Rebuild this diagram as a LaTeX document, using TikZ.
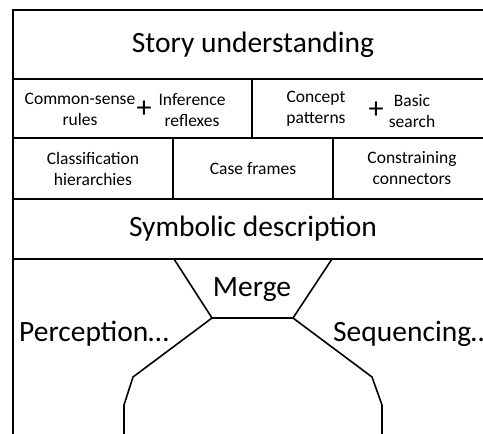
\documentclass[tikz,border=0pt]{standalone}
\usepackage{fontspec}
\setmainfont{Carlito}
\usetikzlibrary{positioning}
\tikzset{
  cell/.style={
    rectangle,
    draw=black,
    line width=1.6pt,
    inner sep=0pt,
    outer sep=0pt,
    anchor=north west,
    align=center,
    font=\fontsize{17.5}{21}\selectfont
  },
  bigcell/.style={
    cell,
    minimum width=480pt,
    font=\fontsize{29.5}{35}\selectfont
  },
  smalltext/.style={
    align=center,
    inner sep=0pt,
    font=\fontsize{17.5}{21}\selectfont
  },
  bigtext/.style={
    inner sep=0pt,
    font=\fontsize{29.5}{35}\selectfont
  },
  plussign/.style={
    inner sep=0pt,
    font=\fontsize{30}{30}\selectfont
  },
  outline/.style={
    line width=1.6pt,
    draw=black
  }
}
\begin{document}
\begin{tikzpicture}[x=1pt, y=-1pt]
  \useasboundingbox (0,0) rectangle (483,434);
  \clip (0,0) rectangle (483,434);

  % layers, top to bottom
  \node[bigcell, minimum height=69pt] (story) at (13,10) {Story understanding};
  \node[cell, minimum width=239pt, minimum height=59pt] (rulescell) at (story.south west) {};
  \node[cell, minimum width=241pt, minimum height=59pt] (patternscell) at (rulescell.north east) {};
  \node[cell, minimum width=160pt, minimum height=61pt] (classcell) at (rulescell.south west) {Classification\\hierarchies};
  \node[cell, minimum width=160pt, minimum height=61pt] (framescell) at (classcell.north east) {Case frames};
  \node[cell, minimum width=158pt, minimum height=61pt] (conncell) at (framescell.north east) {Constraining\\connectors};
  \node[bigcell, minimum height=60pt] (symbolic) at (classcell.south west) {Symbolic description};

  % second layer texts
  \node[smalltext] (commonsense) at (80,109) {Common-sense\\rules};
  \node[plussign] (plusleft) at (144,109) {+};
  \node[smalltext] (inference) at (192,110) {Inference\\reflexes};
  \node[smalltext] (concept) at (316,108.5) {Concept\\patterns};
  \node[plussign] (plusright) at (376,110.5) {+};
  \node[smalltext] (search) at (412,111) {Basic\\search};

  % merge funnel
  \coordinate (bottomleft) at (13,434);
  \coordinate (mtl) at (174,259);
  \coordinate (mtr) at (332,259);
  \coordinate (mbl) at (212,318);
  \coordinate (mbr) at (293,318);
  \coordinate (pa) at (133,377);
  \coordinate (pb) at (124,405);
  \coordinate (pc) at (124,434);
  \coordinate (sa) at (372,377);
  \coordinate (sb) at (382,405);
  \coordinate (sc) at (382,434);

  \draw[outline] (symbolic.south west) -- (bottomleft);
  \draw[outline] (mtl) -- (mbl) -- (mbr) -- (mtr);
  \draw[outline] (mbl) -- (pa) -- (pb) -- (pc);
  \draw[outline] (mbr) -- (sa) -- (sb) -- (sc);

  \node[bigtext] (merge) at (252,290) {Merge};
  \node[bigtext] (perception) at (94,334) {Perception…};
  \node[bigtext, anchor=west] (sequencing) at (333,334) {Sequencing…};
\end{tikzpicture}
\end{document}
